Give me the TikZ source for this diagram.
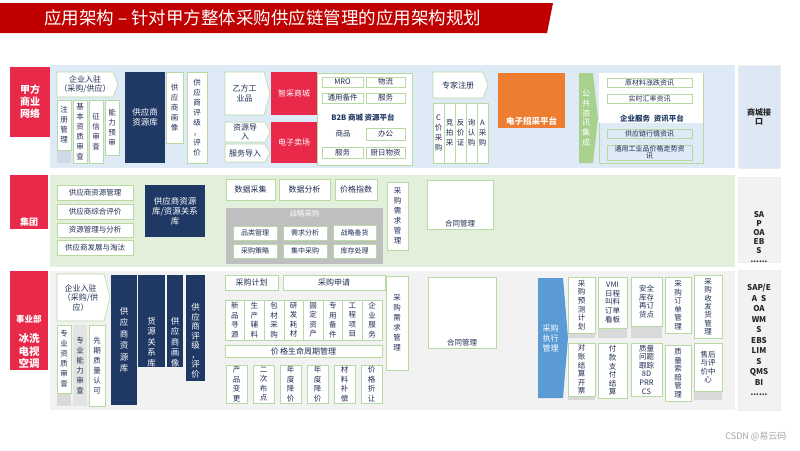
\documentclass[tikz,border=0pt]{standalone}
\usepackage{fontspec}
\setmainfont{Noto Sans CJK SC}
\usepackage{xcolor}
\usepackage{tikz}
\usetikzlibrary{positioning, shadows}

\definecolor{titlered}{RGB}{192,0,0}
\definecolor{lblred}{RGB}{232,41,74}
\definecolor{navy}{RGB}{31,56,100}
\definecolor{bandblue}{RGB}{222,234,246}
\definecolor{bandgreen}{RGB}{226,239,218}
\definecolor{bandgrey}{RGB}{242,242,242}
\definecolor{edgegreen}{RGB}{183,217,162}
\definecolor{txtnavy}{RGB}{32,46,82}
\definecolor{stratgrey}{RGB}{191,191,191}
\definecolor{bidorange}{RGB}{237,125,49}
\definecolor{infogreen}{RGB}{169,209,142}
\definecolor{execblue}{RGB}{91,155,213}
\definecolor{shadegrey}{RGB}{217,217,217}
\definecolor{shadeblue}{RGB}{208,218,230}
\definecolor{sysblue}{RGB}{221,232,244}

% box from its corners: style, name, x1, y1, x2, y2, text
\newcommand{\cell}[7]{%
  \node[#1, minimum width={((#5)-(#3))*1pt}, minimum height={((#6)-(#4))*1pt}]
    (#2) at ({((#3)+(#5))/2},{((#4)+(#6))/2}) {#7};}
% box with a point on the right: style, name, x1, y1, x2, y2, tip, text
\newcommand{\arrowcell}[8]{%
  \path[#1] ({#3},{#4}) -- ({(#5)-(#7)},{#4}) -- ({#5},{((#4)+(#6))/2})
    -- ({(#5)-(#7)},{#6}) -- ({#3},{#6}) -- cycle;
  \node[#1, draw=none, fill=none] (#2) at ({((#3)+(#5)-(#7))/2},{((#4)+(#6))/2}) {#8};}

\tikzset{
  base/.style={align=center, inner sep=0.5pt, text=txtnavy, font=\fontsize{7.5}{9}\selectfont},
  wbox/.style={base, draw=edgegreen, fill=white, line width=0.6pt,
    drop shadow={shadow xshift=1pt, shadow yshift=-1pt, fill=black!15, opacity=1}},
  vtext/.style={font=\fontsize{7.5}{10}\selectfont},
  arrw/.style={base, draw=edgegreen, fill=white, line width=0.6pt, font=\fontsize{8}{9.5}\selectfont},
  tagbox/.style={base, draw=edgegreen, fill=white, line width=0.5pt, inner sep=0pt, font=\fontsize{7}{7.5}\selectfont},
  lbl/.style={fill=lblred, text=white, align=center, inner sep=0pt, font=\bfseries\fontsize{10}{12}\selectfont},
  navybox/.style={base, fill=navy, text=white, font=\fontsize{8.5}{10}\selectfont},
  redbox/.style={base, fill=lblred, text=white, font=\fontsize{8}{9}\selectfont},
  plattitle/.style={text=navy, font=\bfseries\fontsize{7.5}{8}\selectfont, inner sep=0pt},
  sysbox/.style={fill=bandgrey, draw=black!7, line width=0.5pt},
  systext/.style={align=center, text=black!85, inner sep=0pt, font=\bfseries\fontsize{8}{9}\selectfont}
}

\begin{document}
\begin{tikzpicture}[x=1pt, y=-1pt]
  \fill[white] (0,0) rectangle (800,450);
  \useasboundingbox (0,0) rectangle (800,450);

  % Title bar
  \fill[titlered] (0,3) -- (553,3) -- (547,33) -- (0,33) -- cycle;
  \node[anchor=west, text=white, inner sep=0pt, font=\fontsize{17.5}{17.5}\selectfont] (title) at (44,18)
    {应用架构 – 针对甲方整体采购供应链管理的应用架构规划};

  % Bands
  \fill[bandblue] (50,65) rectangle (735,168);
  \fill[bandgreen] (50,175) rectangle (735,267);
  \fill[bandgrey] (50,271) rectangle (735,410);

  % Band labels
  \cell{lbl}{netLbl}{10}{67}{50}{137}{甲方\\商业\\网络}
  \cell{lbl, label={[anchor=south, text=white, inner sep=3pt, font=\bfseries\fontsize{9}{10}\selectfont]south:集团}}{grpLbl}{10}{175}{48}{229}{}
  \cell{lbl}{buLbl}{10}{271}{48}{370}{}
  \node[text=white, font=\bfseries\fontsize{8.5}{9}\selectfont] (buName) at (29,319) {事业部};
  \node[text=white, align=center, font=\bfseries\fontsize{10.5}{12.5}\selectfont] (buLines) at (29,351) {冰洗\\电视\\空调};

  % Interfaces on the right
  \cell{sysbox, fill=sysblue, systext}{mallApi}{738}{65}{780}{168}{商城接\\口}
  \cell{sysbox, label={[systext, yshift=-18pt]center:SA\\P\\OA\\EB\\S\\......}}{grpSys}{738}{177}{780}{262}{}
  \cell{sysbox, systext, font=\bfseries\fontsize{8}{10.5}\selectfont}{buSys}{738}{270}{780}{410}
    {SAP/E\\A\enspace S\\OA\\WM\\S\\EBS\\LIM\\S\\QMS\\BI\\......}

  % Top band: supplier access
  \arrowcell{arrw}{joinTop}{57}{72}{118}{97}{5}{企业入驻\\（采购/供应）}
  \fill[shadeblue] (57,100) rectangle (71,163);
  \cell{wbox, vtext}{regMgmt}{57}{100}{71}{150}{注\\册\\管\\理}
  \cell{wbox, vtext}{basicQual}{73}{100}{87}{163}{基\\本\\资\\质\\审\\查}
  \cell{wbox, vtext}{creditChk}{89}{100}{103}{163}{征\\信\\审\\查}
  \cell{wbox, vtext}{capPre}{105}{100}{119}{155}{能\\力\\预\\审}
  \cell{navybox}{supLibTop}{125}{72}{165}{163}{供应商\\资源库}
  \cell{wbox, vtext}{supPortTop}{166}{72}{183}{143}{供\\应\\商\\画\\像}
  \cell{wbox, vtext}{supRateTop}{187}{72}{207}{163}{供\\应\\商\\评\\级\\，\\评\\价}

  % Top band: B2B mall
  \arrowcell{arrw}{vendGoods}{225}{72}{270}{115}{6}{乙方工\\业品}
  \cell{redbox}{smartMall}{271}{72}{317}{115}{智采商城}
  \arrowcell{arrw}{resImport}{225}{122}{270}{142}{5}{资源导\\入}
  \arrowcell{arrw}{svcImport}{225}{144}{270}{162}{5}{服务导入}
  \cell{redbox}{eMarket}{271}{122}{317}{163}{电子卖场}
  \cell{wbox}{b2bPlat}{317}{73}{412}{165}{}
  \cell{tagbox, font=\fontsize{7.5}{8}\selectfont}{mro}{322}{77}{363}{87}{MRO}
  \cell{tagbox, font=\fontsize{7.5}{8}\selectfont}{logist}{366}{77}{405}{87}{物流}
  \cell{tagbox, font=\fontsize{7.5}{8}\selectfont}{spares}{322}{93}{363}{103}{通用备件}
  \cell{tagbox, font=\fontsize{7.5}{8}\selectfont}{service}{366}{93}{405}{103}{服务}
  \node[plattitle] (b2bTitle) at (363,118) {B2B 商城 资源平台};
  \node[base] (goods) at (343,134) {商品};
  \cell{tagbox, font=\fontsize{7.5}{8}\selectfont}{office}{366}{128}{405}{140}{办公}
  \cell{tagbox, font=\fontsize{7.5}{8}\selectfont}{serviceB}{322}{147}{363}{158}{服务}
  \cell{tagbox, font=\fontsize{7.5}{8}\selectfont}{daily}{366}{147}{405}{158}{厨日物资}

  % Top band: bidding and information
  \arrowcell{arrw}{expertReg}{433}{72}{488}{98}{5}{专家注册}
  \cell{wbox, vtext}{bidA}{433}{103}{444}{163}{C\\价\\采\\购}
  \cell{wbox, vtext}{bidB}{444}{103}{455}{163}{竞\\拍\\采}
  \cell{wbox, vtext}{bidC}{455}{103}{466}{163}{反\\价\\证}
  \cell{wbox, vtext}{bidD}{466}{103}{477}{163}{询\\认\\购}
  \cell{wbox, vtext}{bidE}{477}{103}{488}{163}{A\\采\\购}
  \cell{base, fill=bidorange, label={[anchor=south, text=white, inner sep=3pt, font=\bfseries\fontsize{8.5}{9}\selectfont]south:电子招采平台}}{eBid}{498}{73}{565}{128}{}
  \arrowcell{base, fill=infogreen, text=white, font=\fontsize{8}{9.7}\selectfont}{pubInfo}{579}{73}{598}{163}{5}{公\\共\\资\\讯\\集\\成}
  \cell{base, draw=edgegreen, line width=0.6pt}{infoPlat}{599}{73}{703}{163}{}
  \fill[white] (599.3,73.3) rectangle (702.7,123);
  \cell{tagbox}{rawPrice}{607}{78}{692}{87}{原材料涨跌资讯}
  \cell{tagbox}{fxRate}{607}{94}{692}{103}{实时汇率资讯}
  \node[plattitle] (infoTitle) at (652,119) {企业服务\enspace 资讯平台};
  \cell{tagbox, fill=none}{scMarket}{607}{129}{692}{138}{供应链行情资讯}
  \cell{tagbox, fill=none}{idxTrend}{607}{145}{692}{160}{通用工业品价格走势资\\讯}

  % Middle band: group
  \cell{wbox}{supMgmt}{57}{185}{133}{200}{供应商资源管理}
  \cell{wbox}{supEval}{57}{204}{133}{219}{供应商综合评价}
  \cell{wbox}{resAnal}{57}{223}{133}{237}{资源管理与分析}
  \cell{wbox}{supDev}{57}{240}{133}{255}{供应商发展与淘汰}
  \cell{navybox}{supLibMid}{145}{185}{205}{237}{供应商资源\\库/资源关系\\库}
  \cell{wbox, font=\fontsize{8}{9}\selectfont}{dataCol}{226}{179}{275}{200}{数据采集}
  \cell{wbox, font=\fontsize{8}{9}\selectfont}{dataAna}{279}{179}{330}{200}{数据分析}
  \cell{wbox, font=\fontsize{8}{9}\selectfont}{priceIdx}{335}{179}{377}{200}{价格指数}
  \cell{base, fill=stratgrey, label={[anchor=north, text=white, inner sep=2pt, font=\fontsize{7.5}{8}\selectfont]north:战略采购}}{stratProc}{226}{208}{383}{264}{}
  \cell{wbox, font=\fontsize{7}{8}\selectfont}{catMgmt}{233}{226}{277}{240}{品类管理}
  \cell{wbox, font=\fontsize{7}{8}\selectfont}{demAna}{283}{226}{327}{240}{需求分析}
  \cell{wbox, font=\fontsize{7}{8}\selectfont}{stratStock}{333}{225}{376}{240}{战略备货}
  \cell{wbox, font=\fontsize{7}{8}\selectfont}{procStrat}{233}{244}{277}{258}{采购策略}
  \cell{wbox, font=\fontsize{7}{8}\selectfont}{centProc}{283}{244}{327}{258}{集中采购}
  \cell{wbox, font=\fontsize{7}{8}\selectfont}{invHandle}{333}{244}{376}{258}{库存处理}
  \cell{wbox, vtext}{demMgmtMid}{387}{182}{408}{250}{采\\购\\需\\求\\管\\理}
  \cell{wbox, label={[base, anchor=south, inner sep=2pt]south:合同管理}}{contractMid}{427}{180}{493}{229}{}

  % Bottom band: business unit
  \arrowcell{arrw}{joinBot}{57}{274}{110}{321}{6}{企业入驻\\（采购/供\\应）}
  \fill[shadegrey] (57,325) rectangle (71,406);
  \cell{wbox, vtext}{proQual}{57}{325}{71}{393}{专\\业\\资\\质\\审\\查}
  \cell{base, vtext, fill=shadegrey!70}{proCap}{73}{325}{87}{406}{专\\业\\能\\力\\审\\查}
  \cell{wbox, vtext}{advQual}{89}{325}{105}{406}{先\\期\\质\\量\\认\\可}
  \cell{navybox, font=\fontsize{8.5}{11.5}\selectfont}{supLibBot}{111}{275}{137}{405}{供\\应\\商\\资\\源\\库}
  \cell{navybox, label={[base, text=white, font=\fontsize{8.5}{10.5}\selectfont, yshift=-21pt]center:货\\源\\关\\系\\库}}{srcRel}{138}{275}{165}{367}{}
  \cell{navybox, label={[base, text=white, font=\fontsize{8.5}{10.5}\selectfont, yshift=-21pt]center:供\\应\\商\\画\\像}}{supPortBot}{167}{275}{183}{367}{}
  \cell{navybox, label={[base, text=white, font=\fontsize{8.5}{9.5}\selectfont, yshift=-13pt]center:供\\应\\商\\评\\级\\，\\评\\价}}{supRateBot}{186}{275}{205}{381}{}

  % Bottom band: demand and price
  \cell{wbox, font=\fontsize{8}{9}\selectfont}{procPlan}{225}{275}{278}{290}{采购计划}
  \cell{wbox, font=\fontsize{8}{9}\selectfont}{procReq}{283}{275}{385}{290}{采购申请}
  \cell{wbox, vtext}{demMgmtBot}{386}{276}{408}{370}{采\\购\\需\\求\\管\\理}
  \foreach \txt [count=\i from 0] in {新\\品\\寻\\源, 生\\产\\辅\\料, 包\\材\\采\\购, 研\\发\\耗\\材,
      固\\定\\资\\产, 专\\用\\备\\件, 工\\程\\项\\目, 企\\业\\服\\务}
    {\cell{wbox, font=\fontsize{7.5}{9.5}\selectfont}{procCat\i}{225+19.6*\i}{300}{244.6+19.6*\i}{340}{\txt}}
  \cell{wbox, font=\fontsize{8}{9}\selectfont}{lifecycle}{225}{345}{382}{357}{价\,格生命周期管理}
  \foreach \txt [count=\i from 0] in {产\\品\\变\\更, 二\\次\\布\\点, 年\\度\\降\\价, 年\\度\\降\\价,
      材\\料\\补\\偿, 价\\格\\折\\让}
    {\cell{wbox, font=\fontsize{7.5}{9.5}\selectfont}{priceAct\i}{226+27*\i}{365}{247+27*\i}{403}{\txt}}

  % Bottom band: execution
  \cell{wbox, label={[base, anchor=south, inner sep=2pt]south:合同管理}}{contractBot}{428}{277}{496}{348}{}
  \arrowcell{base, fill=execblue, text=white, font=\fontsize{8}{10}\selectfont}{procExec}{538}{278}{568}{398}{5}{采购\\执行\\管理}
  \fill[shadegrey] (568,277) rectangle (595,338);
  \fill[shadegrey] (598,277) rectangle (627,338);
  \fill[shadegrey] (631,277) rectangle (662,338);
  \fill[shadegrey] (568,343) rectangle (595,400);
  \fill[shadegrey] (694,343) rectangle (722,400);
  \cell{wbox, font=\fontsize{7.5}{8.6}\selectfont}{forecast}{568}{277}{595}{333}{采\\购\\预\\测\\计\\划}
  \cell{wbox, font=\fontsize{7.5}{8.6}\selectfont}{vmiBoard}{598}{277}{627}{328}{VMI\\日程\\叫料\\订单\\看板}
  \cell{wbox, font=\fontsize{7.5}{8.6}\selectfont}{safeStock}{631}{277}{662}{326}{安全\\库存\\再订\\货点}
  \cell{wbox, font=\fontsize{7.5}{8.6}\selectfont}{orderMgmt}{665}{277}{691}{333}{采\\购\\订\\单\\管\\理}
  \cell{wbox, font=\fontsize{7.5}{8.4}\selectfont}{shipMgmt}{694}{275}{722}{338}{采\\购\\收\\发\\货\\管\\理}
  \cell{wbox, font=\fontsize{7.5}{8.6}\selectfont}{reconcile}{568}{343}{595}{396}{对\\账\\结\\算\\开\\票}
  \cell{wbox, font=\fontsize{7.5}{8.6}\selectfont}{payment}{598}{343}{627}{398}{付\\款\\支\\付\\结\\算}
  \cell{wbox, font=\fontsize{7.5}{8.6}\selectfont}{qualTrack}{631}{343}{662}{396}{质量\\问题\\跟踪\\8D\\PRR\\CS}
  \cell{wbox, font=\fontsize{7.5}{8.6}\selectfont}{claimMgmt}{665}{345}{691}{401}{质\\量\\索\\赔\\管\\理}
  \cell{wbox, font=\fontsize{7.5}{8.6}\selectfont}{afterSale}{694}{343}{722}{391}{售后\\与评\\价中\\心}

  % Watermark
  \node[anchor=east, text=black!35, font=\fontsize{9}{9}\selectfont] (mark) at (790,437) {CSDN @易云码};
\end{tikzpicture}
\end{document}
